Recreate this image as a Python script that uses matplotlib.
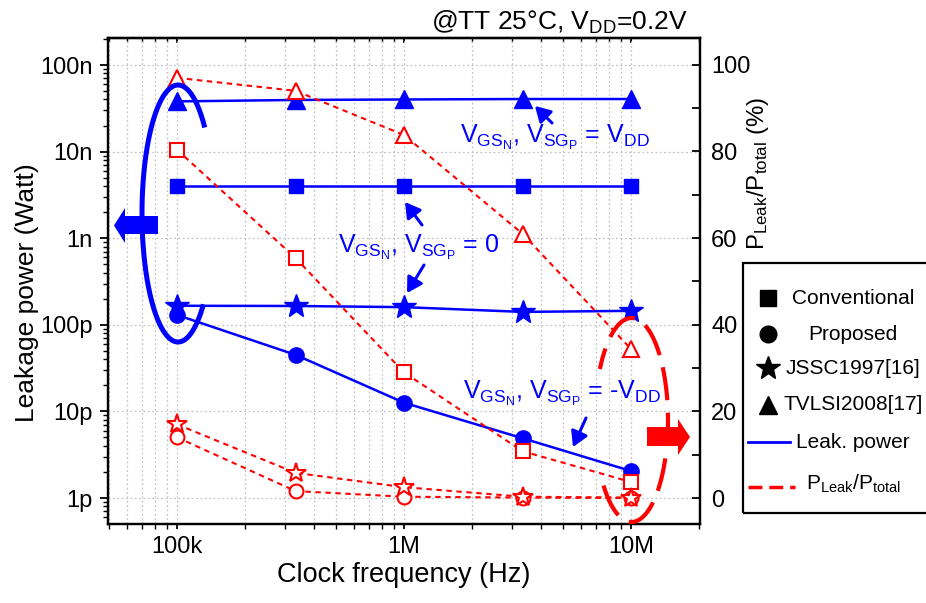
import numpy as np
import matplotlib
matplotlib.use("Agg")
import matplotlib.pyplot as plt
from matplotlib.ticker import LogLocator, NullFormatter, MultipleLocator
from matplotlib.lines import Line2D
from matplotlib.patches import Polygon, Rectangle, FancyArrowPatch

plt.rcParams['font.family'] = ['Liberation Sans', 'DejaVu Sans']
plt.rcParams['mathtext.fontset'] = 'custom'
plt.rcParams['mathtext.rm'] = 'Liberation Sans'
plt.rcParams['mathtext.it'] = 'Liberation Sans:italic'
plt.rcParams['mathtext.bf'] = 'Liberation Sans:bold'
plt.rcParams['mathtext.default'] = 'regular'

# data
freq = [1e5, 3.33e5, 1e6, 3.33e6, 1e7]

leak_conv = [4.0e-9, 4.0e-9, 4.0e-9, 4.0e-9, 4.0e-9]
leak_prop = [130e-12, 45e-12, 12.6e-12, 4.9e-12, 2.05e-12]
leak_jssc = [166e-12, 165e-12, 160e-12, 141e-12, 145e-12]
leak_tvlsi = [38e-9, 39.5e-9, 40e-9, 40.5e-9, 40.5e-9]

ratio_conv = [80.4, 55.4, 29.0, 10.8, 3.7]
ratio_prop = [14.0, 1.6, 0.3, 0.1, 0.0]
ratio_jssc = [17.0, 5.8, 2.5, 0.3, 0.1]
ratio_tvlsi = [97.0, 94.0, 83.8, 61.0, 34.4]

xtick_vals = [1e5, 1e6, 1e7]
xtick_labels = ['100k', '1M', '10M']
ytick_vals = [1e-12, 1e-11, 1e-10, 1e-9, 1e-8, 1e-7]
ytick_labels = ['1p', '10p', '100p', '1n', '10n', '100n']
rtick_vals = [0, 20, 40, 60, 80, 100]

series_names = ['Conventional', 'Proposed', 'JSSC1997[16]', 'TVLSI2008[17]']
series_markers = ['s', 'o', '*', '^']

W, H = 926, 603
def fx(x):
  return x / W
def fy(y):
  return 1 - y / H

BLUE = '#0000ff'
RED = '#ff0000'

fig = plt.figure(figsize=(W / 100, H / 100), dpi=100)
ax = fig.add_axes([fx(108), fy(524), 592 / W, 486 / H])
ax.set_xscale('log')
ax.set_yscale('log')
ax.set_xlim(10 ** 4.696, 10 ** 7.304)
ax.set_ylim(10 ** -12.3, 10 ** -6.688)

# leakage power (left axis, blue, filled)
blue_sizes = [10, 11, 18, 13]
for vals, m, ms in zip([leak_conv, leak_prop, leak_jssc, leak_tvlsi], series_markers, blue_sizes):
  ax.plot(freq, vals, color=BLUE, lw=1.8, marker=m, ms=ms, mfc=BLUE, mec=BLUE, zorder=3)

ax.set_xticks(xtick_vals, xtick_labels)
ax.set_yticks(ytick_vals, ytick_labels)
ax.xaxis.set_minor_locator(LogLocator(base=10, subs=np.arange(2, 10), numticks=20))
ax.yaxis.set_minor_locator(LogLocator(base=10, subs=np.arange(2, 10), numticks=20))
ax.xaxis.set_minor_formatter(NullFormatter())
ax.yaxis.set_minor_formatter(NullFormatter())
ax.grid(True, which='both', axis='x', ls=(0, (1.5, 2)), color='#c4c4c4', lw=0.9)
ax.grid(True, which='major', axis='y', ls=(0, (1.5, 2)), color='#c4c4c4', lw=0.9)
ax.set_axisbelow(True)

ax.tick_params(axis='y', which='major', direction='out', length=6, width=1.3, labelsize=17, pad=5)
ax.tick_params(axis='y', which='minor', direction='out', length=3.5, width=1.0)
ax.tick_params(axis='x', which='major', direction='out', length=3.5, width=1.3, labelsize=17, pad=5)
ax.tick_params(axis='x', which='minor', direction='out', length=3.5, width=1.0)
for s in ax.spines.values():
  s.set_linewidth(1.6)

# top ticks pointing inward
sec = ax.secondary_xaxis('top')
sec.tick_params(axis='x', which='major', direction='in', length=3.5, width=1.3, labeltop=False)
sec.tick_params(axis='x', which='minor', direction='in', length=3, width=1.0)
sec.xaxis.set_major_formatter(NullFormatter())
sec.xaxis.set_minor_formatter(NullFormatter())
sec.spines['top'].set_linewidth(1.6)

ax.set_xlabel('Clock frequency (Hz)', fontsize=19.5)
ax.xaxis.set_label_coords(0.5, -0.078)
ax.set_ylabel('Leakage power (Watt)', fontsize=19)
ax.yaxis.set_label_coords(-0.1166, 0.477)

# P_leak / P_total (right axis, red, open)
ax2 = ax.twinx()
ax2.set_ylim(-6.0, 106.2)
red_sizes = [10, 10, 15, 12]
for vals, m, ms in zip([ratio_conv, ratio_prop, ratio_jssc, ratio_tvlsi], series_markers, red_sizes):
  ax2.plot(freq, vals, color=RED, lw=1.5, ls=(0, (2.6, 2.2)), marker=m, ms=ms,
           mfc='white', mec=RED, mew=1.5)
ax2.set_yticks(rtick_vals)
ax2.yaxis.set_minor_locator(MultipleLocator(10))
ax2.tick_params(axis='y', which='both', direction='in', length=6, width=1.3, labelsize=17, pad=8)
for s in ax2.spines.values():
  s.set_linewidth(1.6)
ax2.set_ylabel(r'$P_{Leak}/P_{total}\ (\%)$', fontsize=17.3)
ax2.yaxis.set_label_coords(1.076, 0.722)

# condition text
fig.text(fx(688), fy(30), '@TT 25\u00b0C, V$_{DD}$=0.2V', ha='right', va='baseline', fontsize=19)

# bias condition notes
fig.text(fx(460), fy(143), 'V$_{GS_N}$, V$_{SG_P}$ = V$_{DD}$', color=BLUE, fontsize=18, va='baseline')
fig.text(fx(338), fy(253), 'V$_{GS_N}$, V$_{SG_P}$ = 0', color=BLUE, fontsize=18, va='baseline')
fig.text(fx(463), fy(399), 'V$_{GS_N}$, V$_{SG_P}$ = -V$_{DD}$', color=BLUE, fontsize=18, va='baseline')

def small_arrow(x0, y0, x1, y1):
  a = FancyArrowPatch((fx(x0), fy(y0)), (fx(x1), fy(y1)), transform=fig.transFigure,
                      arrowstyle='-|>,head_length=0.6,head_width=0.35', mutation_scale=15,
                      color=BLUE, lw=2.2, shrinkA=0, shrinkB=0)
  fig.add_artist(a)

small_arrow(552, 123, 535, 106)
small_arrow(422, 225, 405, 202)
small_arrow(424, 265, 407, 293)
small_arrow(586, 418, 573, 447)

# blue open ellipse round the 100k points
t = np.radians(np.linspace(42, 315, 200))
ex = 178 + 36 * np.cos(t)
ey = 213.5 - 128.5 * np.sin(t)
fig.add_artist(Line2D(fx(ex), fy(ey), transform=fig.transFigure, color=BLUE, lw=3.6,
                      solid_capstyle='butt'))

# red dashed ellipse round the 10M points
t = np.radians(np.linspace(-140, 150, 200))
ex = 631.5 + 36.5 * np.cos(t)
ey = 420 - 102 * np.sin(t)
fig.add_artist(Line2D(fx(ex), fy(ey), transform=fig.transFigure, color=RED, lw=3.0,
                      ls=(0, (8, 3)), dash_capstyle='butt'))

# fat arrows showing which axis
blue_arrow = [(158, 216), (125, 216), (125, 208), (114, 225.5), (125, 243), (125, 234), (158, 234)]
fig.add_artist(Polygon([(fx(x), fy(y)) for x, y in blue_arrow], closed=True,
                       transform=fig.transFigure, color=BLUE, lw=0))
red_arrow = [(647, 427), (678, 427), (678, 419), (690, 437), (678, 455), (678, 446), (647, 446)]
fig.add_artist(Polygon([(fx(x), fy(y)) for x, y in red_arrow], closed=True,
                       transform=fig.transFigure, color=RED, lw=0))

# legend box
fig.add_artist(Rectangle((fx(743), fy(513)), (940 - 743) / W, (513 - 263) / H,
                         transform=fig.transFigure, fill=False, ec='black', lw=1.6))
leg_y = [298, 334, 368, 405]
leg_ms = [11, 12, 18, 13]
for name, m, ms, y in zip(series_names, series_markers, leg_ms, leg_y):
  fig.add_artist(Line2D([fx(768)], [fy(y)], transform=fig.transFigure, marker=m, ms=ms,
                        color='black', ls='none'))
  fig.text(fx(853), fy(y), name, ha='center', va='center', fontsize=15)
fig.add_artist(Line2D([fx(748), fx(790)], [fy(442), fy(442)], transform=fig.transFigure,
                      color=BLUE, lw=2.0))
fig.text(fx(853), fy(442), 'Leak. power', ha='center', va='center', fontsize=15)
fig.add_artist(Line2D([fx(748), fx(795)], [fy(487), fy(487)], transform=fig.transFigure,
                      color=RED, lw=2.5, ls=(0, (4, 2))))
fig.text(fx(853), fy(484), 'P$_{Leak}$/P$_{total}$', ha='center', va='center', fontsize=15)

fig.savefig('out.png', dpi=100)
